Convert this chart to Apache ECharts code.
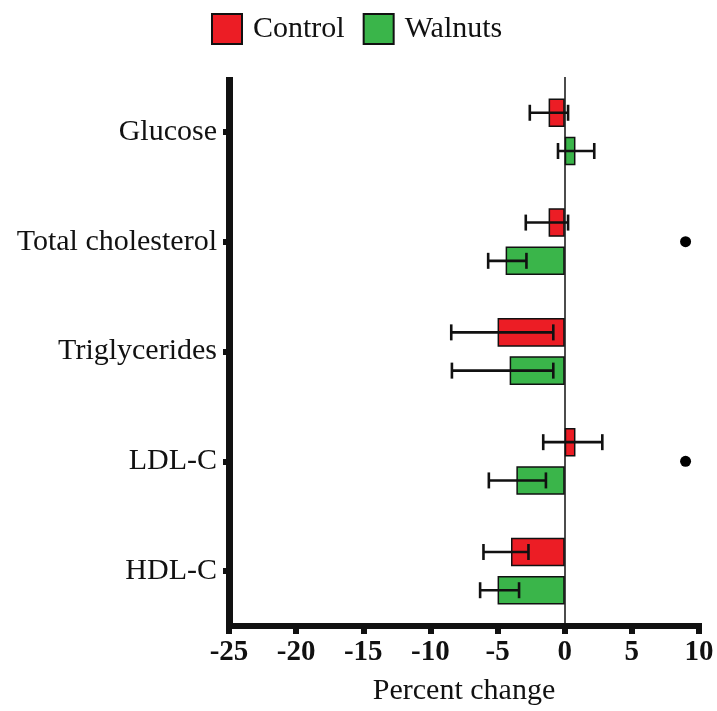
<!DOCTYPE html>
<html>
<head>
<meta charset="utf-8">
<script src="https://cdn.jsdelivr.net/npm/echarts@6/dist/echarts.min.js"></script>
<style>html,body{margin:0;padding:0;background:#fff;}#c{width:717px;height:711px;}</style>
</head>
<body>
<div id="c"></div>
<script>
const categories = ['Glucose', 'Total cholesterol', 'Triglycerides', 'LDL-C', 'HDL-C'];
const xTicks = [-25, -20, -15, -10, -5, 0, 5, 10];
const controlValues = [-1.2, -1.2, -5.0, 0.8, -4.0];
const controlErrLow = [-2.6, -2.9, -8.45, -1.6, -6.05];
const controlErrHigh = [0.25, 0.25, -0.85, 2.8, -2.7];
const walnutValues = [0.8, -4.4, -4.1, -3.6, -5.0];
const walnutErrLow = [-0.5, -5.7, -8.4, -5.65, -6.3];
const walnutErrHigh = [2.2, -2.85, -0.85, -1.4, -3.4];
const sigX = 9;
const sigCategories = ['Total cholesterol', 'LDL-C'];

const FONT = "'Liberation Serif', 'Times New Roman', serif";
const RED = '#EC1D25';
const GREEN = '#3AB54A';
const BAR_W = 0.26; // fraction of band
const BAR_GAP = 0.34;

function errSeries(name, low, high, sign) {
  return {
    type: 'custom',
    name: name + ' err',
    silent: true,
    z: 5,
    data: low.map((l, i) => [l, high[i], i]),
    encode: { x: [0, 1], y: 2 },
    renderItem: function (params, api) {
      const idx = api.value(2);
      const band = api.size([0, 1])[1];
      const bw = band * BAR_W;
      const off = sign * (bw + bw * BAR_GAP) / 2;
      const p1 = api.coord([api.value(0), idx]);
      const p2 = api.coord([api.value(1), idx]);
      const y = p1[1] + off;
      const cap = 8;
      const st = { stroke: '#111', lineWidth: 2.6 };
      return {
        type: 'group',
        children: [
          { type: 'line', shape: { x1: p1[0], y1: y, x2: p2[0], y2: y }, style: st },
          { type: 'line', shape: { x1: p1[0], y1: y - cap, x2: p1[0], y2: y + cap }, style: st },
          { type: 'line', shape: { x1: p2[0], y1: y - cap, x2: p2[0], y2: y + cap }, style: st }
        ]
      };
    }
  };
}

const chart = echarts.init(document.getElementById('c'));
chart.setOption({
  animation: false,
  textStyle: { fontFamily: FONT },
  legend: {
    data: ['Control', 'Walnuts'],
    left: 206, top: 8,
    icon: 'rect',
    itemWidth: 30, itemHeight: 30,
    itemGap: 18,
    textStyle: { fontFamily: FONT, fontSize: 30, color: '#111', padding: [0, 0, 0, 6] }
  },
  grid: { left: 229, right: 18, top: 77, bottom: 85 },
  xAxis: {
    type: 'value',
    min: xTicks[0], max: xTicks[xTicks.length - 1], interval: 5,
    name: 'Percent change',
    nameLocation: 'middle',
    nameGap: 50,
    nameTextStyle: { fontFamily: FONT, fontSize: 30, color: '#111' },
    splitLine: { show: false },
    axisLine: { show: true, lineStyle: { color: '#111', width: 6, cap: 'square' } },
    axisTick: { show: true, length: 8, lineStyle: { color: '#111', width: 6 } },
    axisLabel: { fontFamily: FONT, fontSize: 29, fontWeight: 'bold', color: '#111', margin: 12 }
  },
  yAxis: {
    type: 'category',
    inverse: true,
    data: categories,
    axisLine: { show: true, onZero: false, lineStyle: { color: '#111', width: 7, cap: 'butt' } },
    axisTick: { show: true, alignWithLabel: true, length: 6, lineStyle: { color: '#111', width: 6 } },
    axisLabel: { fontFamily: FONT, fontSize: 30, color: '#111', margin: 12 }
  },
  series: [
    {
      name: 'Control', type: 'bar', data: controlValues,
      barWidth: (BAR_W * 100) + '%', barGap: (BAR_GAP * 100) + '%',
      itemStyle: { color: RED, borderColor: '#111', borderWidth: 1.5 },
      markLine: {
        silent: true, symbol: 'none', label: { show: false },
        lineStyle: { color: '#111', width: 1.5, type: 'solid' },
        data: [{ xAxis: 0 }]
      }
    },
    {
      name: 'Walnuts', type: 'bar', data: walnutValues,
      barWidth: (BAR_W * 100) + '%', barGap: (BAR_GAP * 100) + '%',
      itemStyle: { color: GREEN, borderColor: '#111', borderWidth: 1.5 }
    },
    errSeries('Control', controlErrLow, controlErrHigh, -1),
    errSeries('Walnuts', walnutErrLow, walnutErrHigh, 1),
    {
      name: 'sig', type: 'scatter', symbol: 'circle', symbolSize: 11,
      itemStyle: { color: '#000', opacity: 1 },
      data: sigCategories.map(c => [sigX, c])
    }
  ]
});
</script>
</body>
</html>
